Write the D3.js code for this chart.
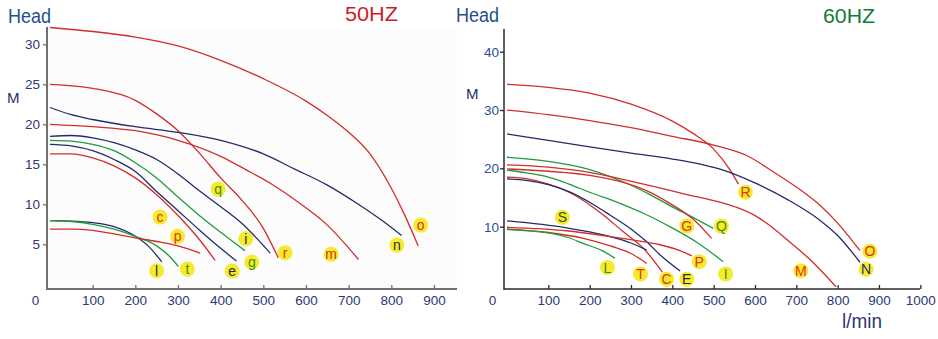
<!DOCTYPE html>
<html><head><meta charset="utf-8">
<script src="https://cdn.jsdelivr.net/npm/d3@7/dist/d3.min.js"></script>
<style>
body{margin:0;background:#fff;}
text{font-family:"Liberation Sans",Arial,sans-serif;}
</style>
</head><body>
<svg id="chart" width="938" height="339"></svg>
<script>
// ---------- DATA ----------
const xTicks50 = [0,100,200,300,400,500,600,700,800,900];
const yTicks50 = [5,10,15,20,25,30];
const xTicks60 = [0,100,200,300,400,500,600,700,800,900,1000];
const yTicks60 = [10,20,30,40];

// 50 Hz curves  [flow l/min, head m]
const curve50_o = [[0,32.1],[100,31.6],[200,30.9],[300,29.8],[400,28],[500,25.7],[600,22.9],[650,21.1],[700,19],[750,16.3],[800,12],[830,8.8],[863,4.8]];
const curve50_r = [[0,25],[100,24.5],[200,23],[250,21.3],[300,19.2],[350,16.4],[400,13.3],[450,10.5],[500,7],[535,3.3]];
const curve50_n = [[0,22.1],[50,21.2],[100,20.6],[200,19.7],[300,19],[400,18],[500,16.3],[570,14.5],[650,12.4],[720,10.1],[780,7.9],[824,6.1]];
const curve50_m = [[0,20],[100,19.7],[200,19.2],[300,18],[400,16],[460,14.3],[520,12.5],[586,10.1],[650,7.4],[723,3.1]];
const curve50_q = [[0,18.5],[50,18.6],[100,18.3],[150,17.7],[200,16.8],[250,15.6],[300,13.8],[350,11.7],[400,9.7],[450,7.6],[516,3.9]];
const curve50_g = [[0,18],[50,17.9],[100,17.5],[150,16.7],[200,15.2],[250,13.3],[300,10.9],[350,8.6],[400,6.5],[457,4.2]];
const curve50_e = [[0,17.5],[50,17.3],[100,16.7],[150,15.6],[200,14.1],[250,11.6],[300,9.2],[350,6.8],[400,4.5],[437,2.9]];
const curve50_c = [[0,16.3],[50,16.3],[100,15.8],[150,14.8],[200,13.3],[250,11.2],[300,8.6],[350,5.6],[387,3.0]];
const curve50_l = [[0,7.95],[50,7.9],[100,7.7],[150,7.2],[200,6.0],[230,4.8],[262,2.8]];
const curve50_t = [[0,7.95],[50,7.85],[100,7.5],[150,6.9],[200,6.0],[250,4.8],[280,3.5],[301,2.2]];
const curve50_p = [[0,6.9],[50,6.9],[100,6.75],[150,6.3],[200,5.8],[250,5.35],[300,4.8],[352,3.9]];

// 60 Hz curves
const curve60_R = [[0,34.4],[100,33.9],[200,32.9],[300,31],[400,28.1],[450,26],[500,23.3],[540,19.7],[560,17.3]];
const curve60_O = [[0,30],[100,29.2],[200,28.2],[300,27],[400,25.5],[500,24],[580,22.2],[640,19.6],[700,16.8],[760,13.5],[800,10.6],[854,5.9]];
const curve60_N = [[0,25.9],[100,24.8],[200,23.7],[300,22.6],[400,21.6],[475,20.6],[523,19.7],[600,17.5],[680,14.6],[757,11.1],[800,8.5],[854,3.9]];
const curve60_Q = [[0,21.9],[100,21.2],[200,19.8],[281,17.7],[346,15.5],[400,13.4],[450,11.6],[499,9.7]];
const curve60_M = [[0,20.6],[100,20.2],[200,19.3],[280,18.1],[354,16.9],[430,15.6],[515,14.2],[556,13.3],[600,11.9],[640,10],[677,7.8],[740,3.9],[796,-0.3]];
const curve60_G = [[0,19.9],[100,19.5],[200,18.8],[281,17.6],[340,16.1],[394,14.0],[450,11.3],[495,8.0]];
const curve60_I = [[0,19.7],[50,19.2],[100,18.5],[150,17.3],[200,15.9],[273,14.0],[330,12.3],[394,10.0],[460,7.3],[523,4.0]];
const curve60_C = [[0,18.5],[50,18.2],[100,17.3],[150,15.9],[209,13.3],[233,12.0],[280,9.2],[330,6.3],[376,2.2]];
const curve60_E = [[0,18.2],[50,17.9],[100,17.2],[150,16.0],[209,13.8],[249,12.0],[300,9.6],[338,7.4],[370,5.2],[419,2.4]];
const curve60_S = [[0,11.0],[144,9.8],[200,9.1],[265,8.0],[300,7.2],[338,6.0]];
const curve60_P = [[0,9.9],[144,9.3],[250,8.3],[306,7.7],[370,6.9],[410,6.1],[447,5.0]];
const curve60_T = [[0,9.6],[100,9.0],[185,8.0],[250,6.7],[300,5.4],[338,3.7]];
const curve60_L = [[0,9.5],[104,8.9],[150,8.1],[185,7.1],[230,5.9],[261,4.6]];

// label markers: letter, flow, head
const labels50 = ["q","c","p","i","g","r","m","n","o","l","t","e"];
const labelFlow50 = [394,258,299,459,473,551,659,813,869,250,322,427];
const labelHead50 = [11.9,8.4,6.0,5.7,2.75,3.95,3.75,4.9,7.4,1.7,1.9,1.65];
const labels60 = ["R","S","G","Q","O","P","L","T","C","E","I","M","N"];
const labelFlow60 = [577,134,435,519,878,465,243,323,386,435,529,711,869];
const labelHead60 = [15.9,11.6,10.1,10.1,5.8,4.0,3.0,1.9,1.0,1.0,1.9,2.45,2.7];

// ---------- STYLE ----------
const RED = "#d22d2b", NAVY = "#222c6a", GREEN = "#1f9b3d";
const TRED = "#e2311a", TGREEN = "#3d8c12", TDARK = "#2b2b36", TNAVY = "#1f2d6a";
const series50 = [
  [curve50_o,RED],[curve50_r,RED],[curve50_n,NAVY],[curve50_m,RED],[curve50_q,NAVY],
  [curve50_g,GREEN],[curve50_e,NAVY],[curve50_c,RED],[curve50_l,NAVY],[curve50_t,GREEN],[curve50_p,RED]
];
const series60 = [
  [curve60_R,RED],[curve60_O,RED],[curve60_N,NAVY],[curve60_Q,GREEN],[curve60_M,RED],[curve60_G,RED],
  [curve60_I,GREEN],[curve60_C,RED],[curve60_E,NAVY],[curve60_S,NAVY],[curve60_P,RED],[curve60_T,RED],[curve60_L,GREEN]
];
const labelColor50 = {q:TGREEN,c:TRED,p:TRED,i:TDARK,g:TGREEN,r:TRED,m:TRED,n:TDARK,o:TRED,l:TDARK,t:TGREEN,e:TDARK};
const labelColor60 = {R:TRED,S:"#3a4a1a",G:TRED,Q:TGREEN,O:TRED,P:TRED,L:TGREEN,T:TRED,C:TRED,E:TDARK,I:TGREEN,M:TRED,N:TNAVY};

const svg = d3.select("#chart");

function panel(cfg){
  const g = svg.append("g");
  const x = d3.scaleLinear().domain(cfg.xDomain).range(cfg.xRange);
  const y = d3.scaleLinear().domain(cfg.yDomain).range(cfg.yRange);
  if (cfg.bg) g.append("rect").attr("x",cfg.axisX).attr("y",cfg.axisTop).attr("width",cfg.axisRight-cfg.axisX).attr("height",cfg.axisY-cfg.axisTop).attr("fill",cfg.bg);

  // y axis
  const ya = g.append("g").attr("transform",`translate(${cfg.axisX},0)`)
    .call(d3.axisLeft(y).tickValues(cfg.yTicks).tickFormat(d3.format("d")).tickSize(4).tickPadding(cfg.yPad));
  ya.select(".domain").remove();
  ya.selectAll("line").attr("stroke",cfg.axisColor).attr("stroke-width",1.3);
  ya.selectAll("text").attr("fill",cfg.yLabelColor).style("font-size","13.5px").style("font-family","Liberation Sans, Arial, sans-serif");

  // x axis
  const xa = g.append("g").attr("transform",`translate(0,${cfg.axisY})`)
    .call(d3.axisBottom(x).tickValues(cfg.xTicks).tickFormat(d3.format("d")).tickSizeInner(-4).tickSizeOuter(0).tickPadding(6));
  xa.select(".domain").remove();
  xa.selectAll("line").attr("stroke",cfg.axisColor).attr("stroke-width",1.3);
  xa.selectAll("text").attr("fill",cfg.xLabelColor).style("font-size","13.5px").style("font-family","Liberation Sans, Arial, sans-serif");
  xa.selectAll(".tick").filter(d=>d===0).each(function(){
    d3.select(this).select("line").remove();
    d3.select(this).select("text").attr("x",-15);
  });

  // axis frame lines
  g.append("line").attr("x1",cfg.axisX).attr("x2",cfg.axisX).attr("y1",cfg.axisTop).attr("y2",cfg.axisY+1)
    .attr("stroke",cfg.axisColor).attr("stroke-width",cfg.axisWidth);
  g.append("line").attr("x1",cfg.axisX).attr("x2",cfg.axisRight).attr("y1",cfg.axisY).attr("y2",cfg.axisY)
    .attr("stroke",cfg.axisColor).attr("stroke-width",cfg.axisWidth);

  // curves
  const line = d3.line().x(d=>x(d[0])).y(d=>y(d[1])).curve(d3.curveMonotoneX);
  cfg.series.forEach(([data,color])=>{
    g.append("path").attr("d",line(data)).attr("fill","none").attr("stroke",color).attr("stroke-width",1.3);
  });

  // labels
  cfg.labels.forEach((lab,i)=>{
    const cx = x(cfg.labelFlow[i]), cy = y(cfg.labelHead[i]);
    g.append("circle").attr("cx",cx).attr("cy",cy).attr("r",7.5).attr("fill","#f6ea2c");
    g.append("text").attr("x",cx).attr("y",cy).attr("dy","0.36em").attr("text-anchor","middle")
      .attr("fill",cfg.labelColor[lab]).style("font-size","14px").text(lab);
  });
  return g;
}

panel({
  xDomain:[0,900], xRange:[50,434], yDomain:[0,30], yRange:[284.3,44.3],
  axisX:47, axisY:289, axisTop:27, axisRight:457, axisColor:"#707070", axisWidth:2,
  xTicks:xTicks50, yTicks:yTicks50, yPad:3, yLabelColor:"#2d3776", xLabelColor:"#2d3776",
  series:series50, labels:labels50, labelFlow:labelFlow50, labelHead:labelHead50, labelColor:labelColor50,
  bg:"#fcfcfc"
});
panel({
  xDomain:[0,1000], xRange:[507,920.3], yDomain:[0,40], yRange:[285,51.7],
  axisX:504, axisY:289, axisTop:29, axisRight:920, axisColor:"#2a2a2a", axisWidth:1.5,
  xTicks:xTicks60, yTicks:yTicks60, yPad:1, yLabelColor:"#2b4f9c", xLabelColor:"#2d3776",
  series:series60, labels:labels60, labelFlow:labelFlow60, labelHead:labelHead60, labelColor:labelColor60
});

// titles
svg.append("text").attr("x",8).attr("y",22.5).attr("fill","#1f4f8f").style("font-size","20px")
  .attr("textLength",43).attr("lengthAdjust","spacingAndGlyphs").text("Head");
svg.append("text").attr("x",7).attr("y",103).attr("fill","#22306f").style("font-size","15px").text("M");
svg.append("text").attr("x",345).attr("y",21).attr("fill","#cc1b2b").style("font-size","20px")
  .attr("textLength",53).attr("lengthAdjust","spacingAndGlyphs").text("50HZ");
svg.append("text").attr("x",456).attr("y",22).attr("fill","#1f4f8f").style("font-size","20px")
  .attr("textLength",43).attr("lengthAdjust","spacingAndGlyphs").text("Head");
svg.append("text").attr("x",466).attr("y",99).attr("fill","#22306f").style("font-size","15px").text("M");
svg.append("text").attr("x",823).attr("y",22.5).attr("fill","#137a3a").style("font-size","21px")
  .attr("textLength",52).attr("lengthAdjust","spacingAndGlyphs").text("60HZ");
svg.append("text").attr("x",842).attr("y",328).attr("fill","#2d3776").style("font-size","20px")
  .attr("textLength",40).attr("lengthAdjust","spacingAndGlyphs").text("l/min");
</script>
</body></html>
